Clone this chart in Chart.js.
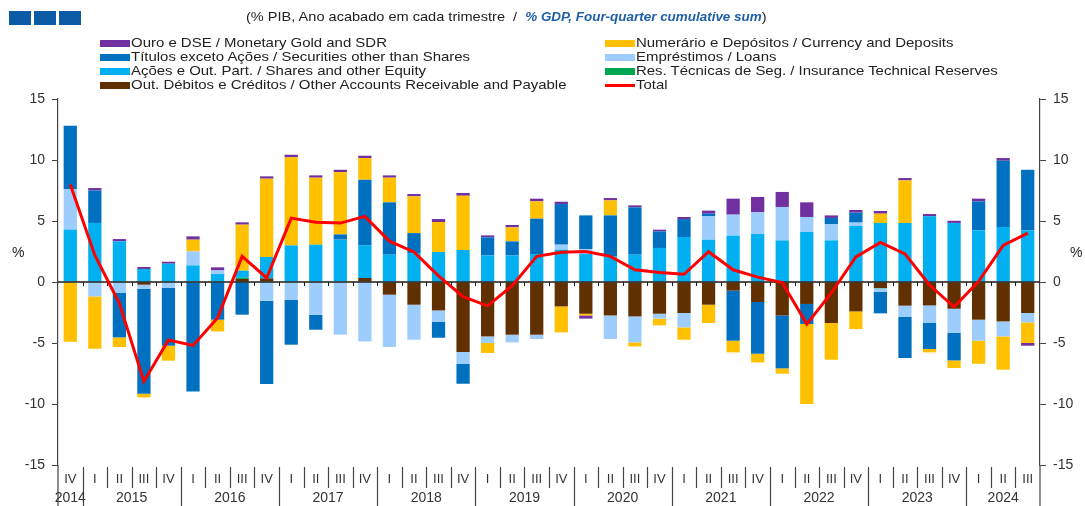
<!DOCTYPE html>
<html>
<head>
<meta charset="utf-8">
<script src="https://cdn.jsdelivr.net/npm/chart.js@4"></script>
<style>
  body { margin: 0; background: #fff; }
  #wrap { position: relative; width: 1085px; height: 506px; font-family: 'Liberation Sans', Arial, sans-serif; color: #222; }
  #wrap canvas { position: absolute; left: 0; top: 0; }
  .abs { position: absolute; white-space: nowrap; }
  .sq { position: absolute; top: 11px; width: 22px; height: 14px; background: #0b5aa6; }
  .leg { position: absolute; height: 14px; font-size: 13px; line-height: 14px; white-space: nowrap; }
  .leg .sw { position: absolute; left: 0; top: 4px; width: 30px; height: 7px; }
  .leg .tx { position: absolute; left: 31px; top: 0; transform: scaleX(1.15); transform-origin: left center; }
</style>
</head>
<body>
<div id="wrap">
  <canvas id="chart" width="1085" height="506"></canvas>
  <div class="sq" style="left:9px"></div>
  <div class="sq" style="left:34px"></div>
  <div class="sq" style="left:59px"></div>
  <div class="abs" style="left:246px; top:9px; font-size:13px; line-height:16px; transform:scaleX(1.12); transform-origin:left center;">(% PIB, Ano acabado em cada trimestre&nbsp; /&nbsp; <span style="font-style:italic; font-weight:bold; font-size:12px; color:#1f5fa8;">% GDP, Four-quarter cumulative sum</span>)</div>
  <div id="legend"></div>
  <div class="abs" style="left:12px; top:244px; font-size:14px;">%</div>
  <div class="abs" style="left:1070px; top:244px; font-size:14px;">%</div>
</div>
<script>
// eixo: trimestres e anos
const quarterLabels = ['IV',
  'I','II','III','IV', 'I','II','III','IV', 'I','II','III','IV', 'I','II','III','IV',
  'I','II','III','IV', 'I','II','III','IV', 'I','II','III','IV', 'I','II','III','IV',
  'I','II','III','IV', 'I','II','III'];
const yearLabels = ['2014','2015','2016','2017','2018','2019','2020','2021','2022','2023','2024'];

// séries (% PIB)
const otherAccounts = [0, 0, 0, -0.22, 0, 0, 0, 0.25, 0.3, 0, 0, 0, 0.33, -1.04, -1.86, -2.33, -5.74, -4.46, -4.32, -4.32,
  -2.0, -2.6, -2.74, -2.82, -2.6, -2.54, -1.86, -0.71, -1.64, -2.74, -1.8, -3.36, -2.41, -0.49, -1.94, -1.92, -2.19, -3.09, -3.23, -2.54];
const insurance = [0, 0, 0, 0, 0, 0.05, 0, 0.1, 0, 0, 0, 0, 0, 0, 0, 0, 0, 0, 0, 0,
  0, 0, 0, 0, 0, 0, 0, 0, 0, 0, 0, 0, 0.03, -0.03, 0, 0, 0, 0, 0, 0];
const shares = [4.3, 4.84, 3.33, 1.07, 1.5, 1.31, 0.65, 0.58, 1.75, 3.0, 3.06, 3.47, 2.67, 2.24, 2.37, 2.46, 2.62, 2.18, 2.18, 2.29,
  2.65, 2.29, 2.1, 2.24, 2.79, 3.69, 3.47, 3.8, 3.93, 3.41, 4.1, 3.41, 4.56, 4.84, 4.84, 5.38, 4.84, 4.23, 4.51, 4.23];
const loans = [3.3, -1.18, -0.9, -0.33, -0.49, 1.15, 0.3, 0, -1.53, -1.45, -2.68, -4.32, -4.87, -4.29, -2.87, -0.95, -0.98, -0.54, -0.63, -0.35,
  0.41, 0.41, -1.93, -2.13, -0.4, -1.18, 1.91, 1.72, 1.78, 2.74, 1.23, 1.34, 0.28, -0.28, -0.93, -1.44, -1.99, -1.72, -1.23, -0.77];
const securities = [5.2, 2.66, -3.64, -8.6, -4.73, -8.97, -3.09, -2.68, -6.83, -3.69, -1.23, 0.43, 5.39, 4.29, 1.64, -1.29, -1.62, 1.48, 1.15, 2.9,
  3.33, 2.76, 3.36, 3.88, 1.36, 1.47, 0.22, -4.1, -4.24, -4.34, -1.64, 0.5, 0.82, -1.77, -3.36, -2.13, -2.25, 2.38, 5.43, 4.97];
const currency = [-4.9, -4.29, -0.79, -0.31, -1.23, 0.96, -0.96, 3.77, 6.42, 7.22, 5.49, 5.11, 1.77, 2.02, 3.01, 2.46, 4.45, -0.82, 1.15, 1.42,
  -2.13, -0.14, 1.23, -0.33, -0.55, -1.01, -1.5, -0.96, -0.71, -0.44, -6.56, -3.01, -1.45, 0.76, 3.49, -0.28, -0.62, -1.89, -2.73, -1.69];
const gold = [0, 0.2, 0.19, 0.16, 0.16, 0.27, 0.25, 0.19, 0.19, 0.21, 0.19, 0.19, 0.19, 0.19, 0.19, 0.24, 0.23, 0.16, 0.19, 0.22,
  0.19, -0.26, 0.19, 0.16, 0.14, 0.17, 0.25, 1.31, 1.26, 1.23, 1.2, 0.21, 0.21, 0.22, 0.19, 0.19, 0.18, 0.22, 0.22, -0.22];
const total = [8.0, 2.2, -1.75, -8.15, -4.75, -5.2, -2.95, 2.1, 0.33, 5.24, 4.9, 4.83, 5.38, 3.35, 2.46, 0.5, -1.2, -1.95, -0.3, 2.1,
  2.43, 2.5, 2.1, 1.0, 0.77, 0.63, 2.48, 1.0, 0.4, -0.05, -3.45, -0.9, 2.05, 3.25, 2.3, -0.25, -2.05, 0.05, 3.0, 4.0];

// rótulos das categorias
const categories = [];
let yi = 0;
quarterLabels.forEach((q, i) => {
  if (q === 'I' && i > 0) yi++;
  categories.push(yearLabels[yi] + ' ' + q);
});

const series = [
  { label: 'Out. Débitos e Créditos / Other Accounts Receivable and Payable', data: otherAccounts, color: '#603000' },
  { label: 'Res. Técnicas de Seg. / Insurance Technical Reserves', data: insurance, color: '#00a651' },
  { label: 'Ações e Out. Part. / Shares and other Equity', data: shares, color: '#00b0f0' },
  { label: 'Empréstimos / Loans', data: loans, color: '#9dcdfd' },
  { label: 'Títulos exceto Ações / Securities other than Shares', data: securities, color: '#0070c0' },
  { label: 'Numerário e Depósitos / Currency and Deposits', data: currency, color: '#ffc000' },
  { label: 'Ouro e DSE / Monetary Gold and SDR', data: gold, color: '#7030a0' }
];

// legenda em duas colunas
const legendRows = [
  [6, 5], [4, 3], [2, 1], [0, 'total']
];
const legendEl = document.getElementById('legend');
legendRows.forEach((row, r) => {
  row.forEach((k, c) => {
    const d = document.createElement('div');
    d.className = 'leg';
    d.style.left = (c === 0 ? 100 : 605) + 'px';
    d.style.top = (36 + r * 14) + 'px';
    if (k === 'total') {
      d.innerHTML = '<div class="sw" style="top:6px;height:3px;background:#ff0000"></div><div class="tx">Total</div>';
    } else {
      d.innerHTML = '<div class="sw" style="background:' + series[k].color + '"></div><div class="tx">' + series[k].label + '</div>';
    }
    legendEl.appendChild(d);
  });
});

const axisDecor = {
  id: 'axisDecor',
  beforeDatasetDraw(chart, args) {
    if (args.index !== 0) return;
    const { ctx, chartArea, scales } = chart;
    const x = scales.x, y = scales.y;
    const y0 = y.getPixelForValue(0);
    const step = x.getPixelForValue(1) - x.getPixelForValue(0);
    ctx.save();
    ctx.strokeStyle = '#1a1a1a';
    ctx.lineWidth = 1.5;
    ctx.beginPath();
    ctx.moveTo(chartArea.left, y0);
    ctx.lineTo(chartArea.right, y0);
    ctx.stroke();
    ctx.lineWidth = 1;
    for (let i = 1; i < categories.length; i++) {
      const bx = Math.round(x.getPixelForValue(i) - step / 2) + 0.5;
      ctx.beginPath();
      ctx.moveTo(bx, y0);
      ctx.lineTo(bx, y0 + 4);
      ctx.stroke();
    }
    ctx.restore();
  },
  afterDraw(chart) {
    const { ctx, chartArea, scales } = chart;
    const x = scales.x;
    const step = x.getPixelForValue(1) - x.getPixelForValue(0);
    const bottom = chartArea.bottom;
    ctx.save();
    ctx.strokeStyle = '#444';
    ctx.lineWidth = 1.2;
    // prolongar eixos verticais
    [chartArea.left, chartArea.right].forEach(px => {
      ctx.beginPath();
      ctx.moveTo(px, bottom);
      ctx.lineTo(px, 506);
      ctx.stroke();
    });
    ctx.fillStyle = '#333';
    ctx.textAlign = 'center';
    ctx.textBaseline = 'middle';
    let groupStart = 0;
    let yIdx = 0;
    for (let i = 0; i < quarterLabels.length; i++) {
      const cx = x.getPixelForValue(i);
      ctx.font = '13px "Liberation Sans", Arial, sans-serif';
      ctx.fillText(quarterLabels[i], cx, 479);
      const endOfYear = i === quarterLabels.length - 1 || quarterLabels[i + 1] === 'I';
      if (i < quarterLabels.length - 1) {
        const bx = Math.round(cx + step / 2) + 0.5;
        ctx.beginPath();
        ctx.moveTo(bx, bottom + 2);
        ctx.lineTo(bx, endOfYear ? 506 : 488);
        ctx.stroke();
      }
      if (endOfYear) {
        const mid = (x.getPixelForValue(groupStart) + cx) / 2;
        ctx.font = '14px "Liberation Sans", Arial, sans-serif';
        ctx.fillText(yearLabels[yIdx], mid, 498);
        yIdx++;
        groupStart = i + 1;
      }
    }
    ctx.restore();
  }
};

const datasets = [{
  type: 'line',
  label: 'Total',
  data: total,
  borderColor: '#ff0000',
  borderWidth: 3,
  pointRadius: 0,
  tension: 0,
  fill: false,
  order: 0
}];
series.forEach(s => {
  datasets.push({
    type: 'bar',
    label: s.label,
    data: s.data,
    backgroundColor: s.color,
    borderWidth: 0,
    categoryPercentage: 1,
    barPercentage: 0.54,
    order: 1
  });
});

const yTicks = { stepSize: 5, color: '#333', padding: 7, font: { size: 14, family: '"Liberation Sans", Arial, sans-serif' } };

new Chart(document.getElementById('chart').getContext('2d'), {
  type: 'bar',
  data: { labels: categories, datasets: datasets },
  options: {
    responsive: false,
    animation: false,
    layout: { padding: { top: 99, bottom: 41, left: 0, right: 0 } },
    plugins: { legend: { display: false }, tooltip: { enabled: false } },
    scales: {
      x: { display: false, stacked: true },
      y: {
        stacked: true,
        position: 'left',
        min: -15, max: 15,
        ticks: yTicks,
        grid: { drawOnChartArea: false, tickLength: 6, color: '#444' },
        border: { color: '#444', width: 1.2 },
        afterFit: s => { s.width = 58; }
      },
      y2: {
        position: 'right',
        min: -15, max: 15,
        ticks: yTicks,
        grid: { drawOnChartArea: false, tickLength: 6, color: '#444' },
        border: { color: '#444', width: 1.2 },
        afterFit: s => { s.width = 45; }
      }
    }
  },
  plugins: [axisDecor]
});
</script>
</body>
</html>
